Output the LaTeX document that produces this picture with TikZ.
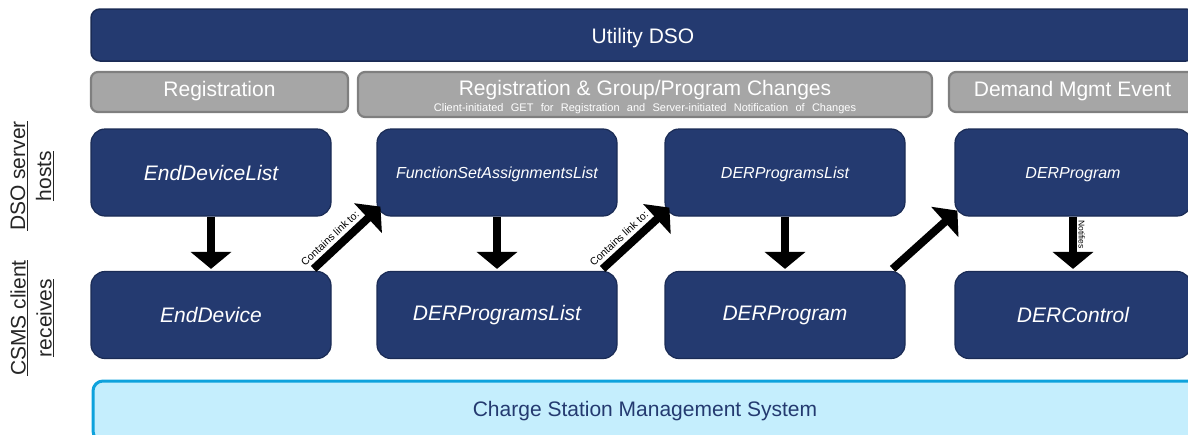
\documentclass[tikz,border=0pt]{standalone}
\usepackage{fontspec}
\setmainfont{Liberation Sans}
\usetikzlibrary{arrows.meta,calc}

\definecolor{dsonavy}{HTML}{243A70}
\definecolor{dsonavyedge}{HTML}{1A2B55}
\definecolor{phasegray}{HTML}{A6A6A6}
\definecolor{phaseedge}{HTML}{7F7F7F}
\definecolor{csmsfill}{HTML}{C5EEFD}
\definecolor{csmsedge}{HTML}{0FA2DC}
\definecolor{labelink}{HTML}{262626}

\begin{document}
\begin{tikzpicture}[x=1pt, y=-1pt,
  bigfont/.style={font=\fontsize{21}{26}\selectfont},
  bar/.style={fill=dsonavy, draw=dsonavyedge, line width=1.5pt, rounded corners=9pt,
    text=white, bigfont, inner sep=0pt, text height=20.5pt, text depth=4.5pt},
  phase/.style={fill=phasegray, draw=phaseedge, line width=2.2pt, rounded corners=7pt,
    text=white, bigfont, inner sep=0pt, text height=13pt, text depth=4.5pt},
  obj/.style={fill=dsonavy, draw=dsonavyedge, line width=1.2pt, rounded corners=14pt,
    minimum width=240pt, minimum height=87pt, inner sep=0pt, text=white,
    font=\fontsize{21}{25}\selectfont\itshape},
  objsmall/.style={obj, font=\fontsize{16}{19}\selectfont\itshape,
    text height=15.4pt, text depth=3.4pt},
  csms/.style={fill=csmsfill, draw=csmsedge, line width=3pt, rounded corners=10pt,
    inner sep=0pt, text=dsonavy, font=\fontsize{21}{25}\selectfont},
  flow/.style={line width=8pt, -{Triangle[width=40pt,length=17pt]}, shorten >=2pt},
  linklabel/.style={font=\fontsize{10.5}{12}\selectfont, sloped, above, inner sep=3.5pt},
  notelabel/.style={font=\fontsize{8.5}{10}\selectfont, sloped, above, inner sep=1.5pt},
  sidelabel/.style={rotate=90, align=center, text=labelink, bigfont}
]
\useasboundingbox (0,0) rectangle (1188,434);
\clip (0,0) rectangle (1188,434);

% operator banner
\node[bar, minimum width=1104pt, minimum height=52pt] (dso) at (643,35) {Utility DSO};

% phase headers
\node[phase, minimum width=257pt, minimum height=40pt] (reg) at (219.5,92) {Registration};
\node[phase, minimum width=574pt, minimum height=45pt] (regchg) at (645,94.5) {};
\node[text=white, bigfont, inner sep=0pt, anchor=base]
  (regchgtitle) at (645,95) {Registration \& Group/Program Changes};
\node[text=white, inner sep=0pt, anchor=base,
  font={\fontsize{11}{13}\selectfont\spaceskip=7.3pt\relax}]
  (regchgsub) at (645,111)
  {Client-initiated GET for Registration and Server-initiated Notification of Changes};
\node[phase, minimum width=247pt, minimum height=40pt] (dme) at (1072.5,92) {Demand Mgmt Event};

% resources hosted by the DSO server
\node[obj] (edl) at (211,172.5) {EndDeviceList};
\node[objsmall] (fsal) at (497,172.5) {FunctionSetAssignmentsList};
\node[objsmall] (dpl1) at (785,172.5) {DERProgramsList};
\node[objsmall, minimum width=236pt] (dp1) at (1073,172.5) {DERProgram};

% resources received by the CSMS client
\node[obj] (ed) at (211,315) {EndDevice};
\node[obj] (dpl2) at (497,315) {DERProgramsList};
\node[obj] (dp2) at (785,315) {DERProgram};
\node[obj, minimum width=236pt] (dc) at (1073,315) {DERControl};

% CSMS banner
\node[csms, minimum width=1104pt, minimum height=60pt] (cs) at (645,411) {Charge Station Management System};

% row labels
\node[sidelabel] (srvlabel) at (32,176) {\underline{DSO server}\\\underline{hosts}};
\node[sidelabel] (cltlabel) at (32,318) {\underline{CSMS client}\\\underline{receives}};

% retrieval arrows
\draw[flow] (edl.south) -- (ed.north);
\draw[flow] (fsal.south) -- (dpl2.north);
\draw[flow] (dpl1.south) -- (dp2.north);
\draw[flow] (dp1.south) -- node[notelabel, pos=0.33] {Notifies} (dc.north);

% link-following arrows
\draw[flow, shorten >=0pt] ($(ed.north east)+(-18,-2)$) --
  node[linklabel, pos=0.36] {Contains link to:} ($(fsal.south west)+(4,-10)$);
\draw[flow, shorten >=0pt] ($(dpl2.north east)+(-15,-2)$) --
  node[linklabel, pos=0.36] {Contains link to:} ($(dpl1.south west)+(5,-9)$);
\draw[flow, shorten >=0pt] ($(dp2.north east)+(-13,-2)$) -- ($(dp1.south west)+(3,-6)$);
\end{tikzpicture}
\end{document}
